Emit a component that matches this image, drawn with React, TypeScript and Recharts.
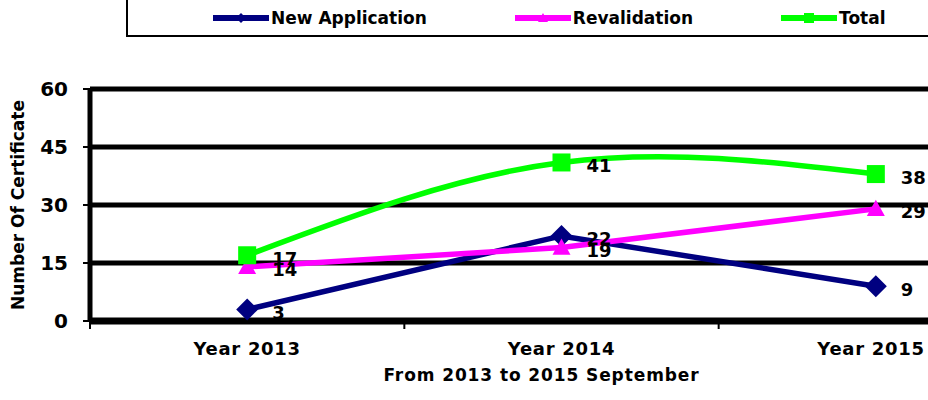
import { LineChart, Line, XAxis, YAxis, CartesianGrid } from "recharts";

const years = ["Year 2013", "Year 2014", "Year 2015"];
const newApplication = [3, 22, 9];
const revalidation = [14, 19, 29];
const total = [17, 41, 38];
const yTicks = [0, 15, 30, 45, 60];

const data = years.map((year, i) => ({
  year,
  newApp: newApplication[i],
  reval: revalidation[i],
  total: total[i],
}));

const BOLD = "'DejaVu Sans', Verdana, sans-serif";

const series = [
  { key: "newApp", name: "New Application", color: "#000080", shape: "diamond", curve: "linear" },
  { key: "reval", name: "Revalidation", color: "#FF00FF", shape: "triangle", curve: "linear" },
  { key: "total", name: "Total", color: "#00FF00", shape: "square", curve: "natural" },
] as const;

function marker(shape: string, cx: number, cy: number, r: number, color: string, key?: string) {
  if (shape === "diamond") {
    return (
      <polygon key={key} points={`${cx},${cy - r} ${cx + r},${cy} ${cx},${cy + r} ${cx - r},${cy}`} fill={color} />
    );
  }
  if (shape === "triangle") {
    return (
      <polygon key={key} points={`${cx},${cy - r} ${cx + r},${cy + r * 0.8} ${cx - r},${cy + r * 0.8}`} fill={color} />
    );
  }
  return <rect key={key} x={cx - r} y={cy - r} width={r * 2} height={r * 2} fill={color} />;
}

const makeDot = (shape: string, color: string, r: number) => (props: any) =>
  marker(shape, props.cx, props.cy, r, color, `dot-${shape}-${props.index}`);

const renderLabel = (props: any) => (
  <text
    x={props.x + 25}
    y={props.y + 3}
    dominantBaseline="central"
    fontFamily={BOLD}
    fontWeight="bold"
    fontSize={18}
    fill="#000"
  >
    {props.value}
  </text>
);

// tick text sits at the band centre, the tick mark at the band edge
const YearTick = (props: any) => {
  const { x, y, payload } = props;
  const half = payload.offset ?? 157;
  const tx = Math.min(x, 925 - 54); // keep the last label inside the picture
  return (
    <g>
      <line x1={x - half} y1={y} x2={x - half} y2={y + 8} stroke="#000" strokeWidth={2} />
      <text
        x={tx}
        y={y + 34}
        textAnchor="middle"
        fontFamily={BOLD}
        fontWeight="bold"
        fontSize={18}
        letterSpacing={0.7}
        fill="#000"
      >
        {payload.value}
      </text>
    </g>
  );
};

function ChartLegend() {
  return (
    <div
      style={{
        position: "absolute",
        top: 0,
        left: 126,
        width: 802,
        height: 37,
        borderLeft: "2px solid #000",
        borderBottom: "2px solid #000",
        display: "flex",
        alignItems: "center",
        paddingLeft: 85,
        gap: 88,
        boxSizing: "border-box",
      }}
    >
      {series.map((s) => (
        <div key={s.key} style={{ display: "flex", alignItems: "center" }}>
          <svg width={58} height={16}>
            <line x1={0} y1={8} x2={56} y2={8} stroke={s.color} strokeWidth={6} />
            {marker(s.shape, 28, 8, 5, s.color)}
          </svg>
          <span style={{ fontFamily: BOLD, fontWeight: "bold", fontSize: 17, color: "#000" }}>{s.name}</span>
        </div>
      ))}
    </div>
  );
}

export default function App() {
  return (
    <div
      style={{
        position: "absolute",
        left: 0,
        top: 0,
        width: 928,
        height: 400,
        overflow: "hidden",
        background: "#fff",
      }}
    >
      <LineChart width={1040} height={400} data={data} margin={{ top: 89, right: 7, left: 30, bottom: 0 }}>
        <CartesianGrid vertical={false} stroke="#000" strokeWidth={5} />
        <XAxis
          dataKey="year"
          scale="band"
          height={79}
          axisLine={{ stroke: "#000", strokeWidth: 7 }}
          tickLine={false}
          tickSize={0}
          tickMargin={0}
          tick={<YearTick />}
          interval={0}
          label={{
            value: "From 2013 to 2015 September",
            position: "insideBottom",
            offset: 19,
            dx: -20,
            fontFamily: BOLD,
            fontWeight: "bold",
            fontSize: 17,
            letterSpacing: 0.9,
            fill: "#000",
          }}
        />
        <YAxis
          type="number"
          domain={[0, 60]}
          ticks={yTicks}
          width={60}
          axisLine={{ stroke: "#000", strokeWidth: 5 }}
          tickLine={{ stroke: "#000", strokeWidth: 2 }}
          tickSize={7}
          tickMargin={15}
          tick={{ fontFamily: BOLD, fontWeight: "bold", fontSize: 20, fill: "#000" }}
          label={{
            content: (p: any) => {
              const vb = p.viewBox;
              const cx = vb.x - 12;
              const cy = vb.y + vb.height / 2;
              return (
                <text
                  x={cx}
                  y={cy}
                  transform={`rotate(-90 ${cx} ${cy})`}
                  textAnchor="middle"
                  dominantBaseline="central"
                  fontFamily={BOLD}
                  fontWeight="bold"
                  fontSize={17}
                  fill="#000"
                >
                  Number Of Certificate
                </text>
              );
            },
          }}
        />
        {series.map((s) => (
          <Line
            key={s.key}
            dataKey={s.key}
            name={s.name}
            type={s.curve}
            stroke={s.color}
            strokeWidth={5.5}
            dot={makeDot(s.shape, s.color, s.shape === "diamond" ? 11 : 9)}
            activeDot={false}
            label={renderLabel}
            isAnimationActive={false}
          />
        ))}
      </LineChart>
      <ChartLegend />
    </div>
  );
}
